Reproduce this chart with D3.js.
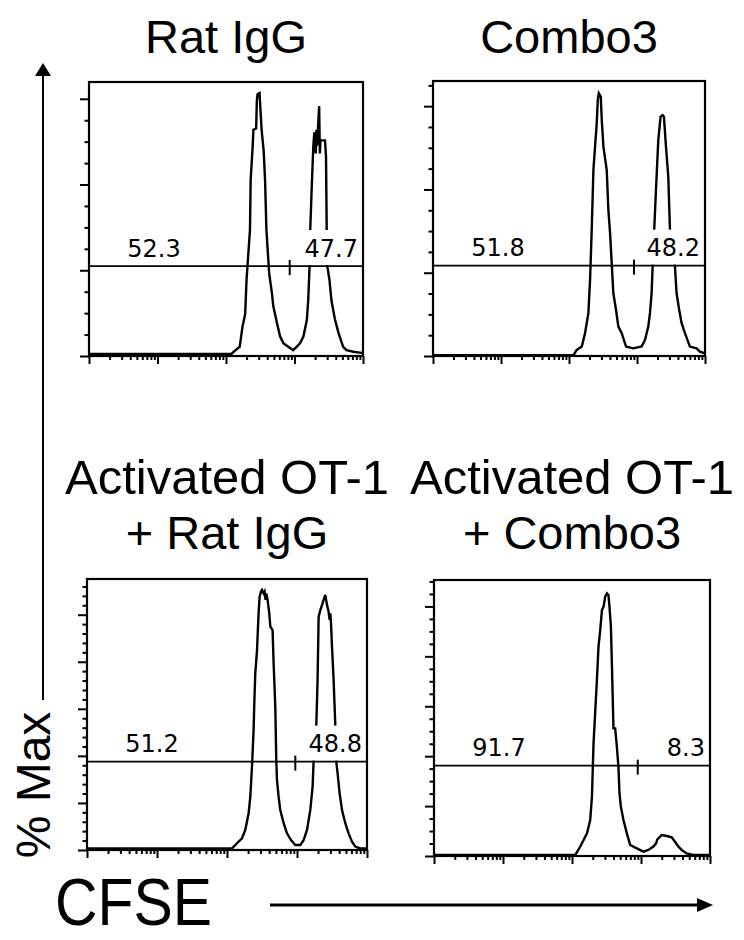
<!DOCTYPE html>
<html>
<head>
<meta charset="utf-8">
<script src="https://cdn.jsdelivr.net/npm/d3@7"></script>
<style>
  body { margin: 0; background: #fff; }
  svg { display: block; }
  text { font-family: "Liberation Sans", Arial, sans-serif; fill: #000; }
  .gate text { font-family: "DejaVu Sans", Verdana, sans-serif; }
</style>
</head>
<body>
<div id="chart"></div>
<script>
// histogram traces: [log10 CFSE, % of max]
var ratIgG = [
  [0, 0.8], [2.08, 0.8], [2.11, 1.6], [2.2, 3.5], [2.24, 11], [2.28, 16], [2.30, 29], [2.35, 48],
  [2.36, 67], [2.39, 80], [2.40, 86], [2.44, 86.5], [2.45, 97], [2.46, 99.5], [2.49, 100], [2.50, 95],
  [2.52, 86], [2.55, 78], [2.57, 67], [2.59, 48], [2.63, 31.5], [2.67, 24], [2.69, 19], [2.74, 13],
  [2.79, 7.4], [2.84, 4.8], [2.91, 3.5], [2.98, 2.2], [3.03, 3.5], [3.08, 4.8], [3.13, 7.4], [3.18, 13.7],
  [3.20, 21], [3.22, 34], [3.23, 48], [3.25, 63], [3.275, 80], [3.29, 85], [3.31, 77], [3.32, 86],
  [3.33, 80], [3.36, 95], [3.37, 77], [3.38, 82], [3.445, 82], [3.46, 76], [3.47, 48], [3.48, 34],
  [3.51, 29], [3.54, 21], [3.59, 14], [3.64, 9], [3.71, 3.5], [3.76, 2.2], [3.86, 1.6], [3.98, 1.2], [4, 1.2]
]
var combo3 = [
  [0, 0.3], [2.065, 0.3], [2.114, 2.3], [2.188, 3.6], [2.236, 8.7], [2.285, 16.4], [2.31, 29.1], [2.334, 48],
  [2.359, 70.8], [2.383, 79.7], [2.408, 88.6], [2.423, 97.4], [2.438, 100], [2.467, 98.7], [2.482, 89.8],
  [2.506, 79.7], [2.555, 70.8], [2.579, 55.6], [2.604, 46.7], [2.628, 35.4], [2.652, 23.9], [2.692, 17.5],
  [2.726, 11.2], [2.775, 8.7], [2.839, 3.6], [2.946, 2.9], [3.069, 3.6], [3.117, 6.1], [3.166, 11.2],
  [3.191, 16.4], [3.215, 23.9], [3.23, 34.2], [3.254, 48.6], [3.279, 63.2], [3.313, 82.2], [3.347, 91.1],
  [3.377, 91.7], [3.396, 91.1], [3.426, 79.7], [3.46, 68.3], [3.484, 48.6], [3.558, 34.2], [3.582, 23.9],
  [3.621, 17.5], [3.656, 12.5], [3.705, 8.7], [3.778, 3.6], [3.876, 2.9], [3.925, 1.65], [4, 1.0]
]
var ot1RatIgG = [
  [0, 0.6], [2.071, 0.6], [2.143, 2.6], [2.214, 4.5], [2.261, 7.7], [2.309, 14.1], [2.333, 20.5], [2.357, 32.1],
  [2.38, 46.2], [2.39, 56.4], [2.404, 67.9], [2.429, 76.9], [2.451, 91], [2.466, 97.4], [2.486, 99.4], [2.5, 100],
  [2.523, 98.7], [2.537, 99.4], [2.551, 96.2], [2.561, 98.7], [2.58, 96.2], [2.604, 91], [2.619, 85.9],
  [2.651, 84.6], [2.666, 71.8], [2.69, 55.1], [2.704, 34.6], [2.714, 26.9], [2.737, 20.5], [2.761, 15.4],
  [2.809, 10.3], [2.857, 6.4], [2.914, 3.8], [2.976, 1.9], [3.047, 1.9], [3.094, 3.8], [3.143, 7.7],
  [3.19, 15.4], [3.223, 24.4], [3.237, 34], [3.276, 48.1], [3.294, 65.4], [3.309, 89.7], [3.333, 92.3],
  [3.357, 94.2], [3.38, 96.2], [3.404, 98.1], [3.429, 94.2], [3.451, 91.7], [3.466, 88.5], [3.476, 91],
  [3.486, 87.2], [3.5, 78.2], [3.523, 65.4], [3.547, 48.1], [3.561, 34], [3.58, 29.5], [3.609, 21.8],
  [3.643, 15.4], [3.69, 10.3], [3.737, 6.4], [3.786, 3.2], [3.833, 1.3], [3.904, 0.6], [4, 0.6]
]
var ot1Combo3 = [
  [0, 0.4], [2.048, 0.4], [2.12, 3.6], [2.168, 6.1], [2.217, 8.6], [2.264, 13.7], [2.289, 22.6], [2.312, 42.8],
  [2.361, 67], [2.384, 79.7], [2.409, 86], [2.434, 93.6], [2.457, 94.9], [2.481, 98.7], [2.506, 100],
  [2.529, 99.3], [2.543, 94.9], [2.564, 87.3], [2.578, 73.3], [2.601, 48.6], [2.626, 48.6], [2.65, 41.6],
  [2.673, 34], [2.688, 23.9], [2.708, 18.8], [2.746, 13.7], [2.795, 8.6], [2.843, 4.2], [2.939, 2.9],
  [3.035, 1.65], [3.107, 2.3], [3.179, 3.6], [3.218, 4.8], [3.237, 6.3], [3.301, 8.0], [3.373, 7.6],
  [3.445, 7.1], [3.493, 5.4], [3.541, 3.6], [3.59, 2.3], [3.662, 1.0], [3.757, 0.4], [4, 0.4]
]

var series = [ratIgG, combo3, ot1RatIgG, ot1Combo3]
var titles = [['Rat IgG'], ['Combo3'], ['Activated OT-1', '+ Rat IgG'], ['Activated OT-1', '+ Combo3']]
var gateLeft = ['52.3', '51.8', '51.2', '91.7']
var gateRight = ['47.7', '48.2', '48.8', '8.3']
var gateLevel = [34.2, 34.4, 34.0, 34.4]     // % max height of the gate bar
var gateSplit = [2.93, 2.956, 2.976, 2.953]  // log10 CFSE where the gate divides
var yStep = [32.6, 31.7, 18.1, 19.0]         // y major tick spacing, % max
var yDiv = [4, 4, 5, 4]                      // minor divisions per major

// layout (pixels)
var boxes = [
  {x0: 89, x1: 363, y0: 82, y1: 356, h: 263},
  {x0: 433, x1: 705, y0: 81, y1: 356, h: 262.7},
  {x0: 87, x1: 367, y0: 579, y1: 850, h: 260},
  {x0: 434, x1: 710, y0: 580, y1: 856, h: 262.7}
]
var titleY = [[53], [53], [494, 549], [494, 549]]
var titleSize = [[47], [47], [49, 47], [49, 47]]

var svg = d3.select('#chart').append('svg').attr('width', 744).attr('height', 940)

series.forEach(function(data, i){
  var b = boxes[i]
  var x = d3.scaleLog().domain([1, 1e4]).range([b.x0, b.x1])
  var y = d3.scaleLinear().domain([0, 100]).range([b.y1, b.y1 - b.h])
  var g = svg.append('g')

  titles[i].forEach(function(t, j){
    g.append('text')
      .attr('x', (b.x0 + b.x1) / 2).attr('y', titleY[i][j])
      .attr('text-anchor', 'middle').attr('font-size', titleSize[i][j])
      .text(t)
  })

  // x ticks, log decades
  var majors = d3.range(0, 5).map(function(e){ return Math.pow(10, e) })
  var minors = []
  d3.range(0, 4).forEach(function(e){
    d3.range(2, 10).forEach(function(k){ minors.push(k * Math.pow(10, e)) })
  })
  function clean(s){
    s.select('.domain').remove()
    s.selectAll('.tick line').attr('stroke-width', 2)
  }
  g.append('g').attr('transform', 'translate(0,' + b.y1 + ')')
    .call(d3.axisBottom(x).tickValues(majors).tickSize(8).tickFormat('')).call(clean)
  g.append('g').attr('transform', 'translate(0,' + b.y1 + ')')
    .call(d3.axisBottom(x).tickValues(minors).tickSize(4).tickFormat('')).call(clean)

  // y ticks
  var top = y.invert(b.y0)
  var yMaj = d3.range(0, top, yStep[i])
  var yMin = d3.range(0, top, yStep[i] / yDiv[i]).filter(function(v, k){ return k % yDiv[i] != 0 })
  g.append('g').attr('transform', 'translate(' + b.x0 + ',0)')
    .call(d3.axisLeft(y).tickValues(yMaj).tickSize(9).tickFormat('')).call(clean)
  g.append('g').attr('transform', 'translate(' + b.x0 + ',0)')
    .call(d3.axisLeft(y).tickValues(yMin).tickSize(4.5).tickFormat('')).call(clean)

  var line = d3.line()
    .x(function(d){ return x(Math.pow(10, d[0])) })
    .y(function(d){ return y(d[1]) })
  g.append('path').datum(data)
    .attr('d', line)
    .attr('fill', 'none').attr('stroke', '#000').attr('stroke-width', 2.4)

  // gate
  var gy = y(gateLevel[i])
  var gate = g.append('g').attr('class', 'gate')
  var rt = gate.append('text')
    .attr('x', b.x1 - 5).attr('y', gy - 9.5)
    .attr('text-anchor', 'end').attr('font-size', 24)
    .text(gateRight[i])
  var bb = rt.node().getBBox()
  gate.insert('rect', 'text')
    .attr('x', bb.x - 3).attr('width', bb.width + 4)
    .attr('y', gy - 36).attr('height', 35)
    .attr('fill', '#fff')
  gate.append('text')
    .attr('x', b.x0 + 65).attr('y', gy - 9.5)
    .attr('text-anchor', 'middle').attr('font-size', 24)
    .text(gateLeft[i])
  gate.append('line')
    .attr('x1', b.x0).attr('x2', b.x1).attr('y1', gy).attr('y2', gy)
    .attr('stroke', '#000').attr('stroke-width', 1.8)
  var sx = x(Math.pow(10, gateSplit[i]))
  gate.append('line')
    .attr('x1', sx).attr('x2', sx).attr('y1', gy - 6).attr('y2', gy + 9)
    .attr('stroke', '#000').attr('stroke-width', 2)

  g.append('rect')
    .attr('x', b.x0).attr('y', b.y0)
    .attr('width', b.x1 - b.x0).attr('height', b.y1 - b.y0)
    .attr('fill', 'none').attr('stroke', '#000').attr('stroke-width', 2.2)
})

// shared axis captions
svg.append('text')
  .attr('transform', 'translate(50,785) rotate(-90)')
  .attr('text-anchor', 'middle').attr('font-size', 48)
  .text('% Max')
svg.append('line').attr('x1', 43).attr('x2', 43).attr('y1', 700).attr('y2', 72)
  .attr('stroke', '#000').attr('stroke-width', 2)
svg.append('path').attr('d', 'M43,63L35,76L51,76Z').attr('fill', '#000')

svg.append('text')
  .attr('x', 55).attr('y', 925)
  .attr('font-size', 66)
  .attr('textLength', 157).attr('lengthAdjust', 'spacingAndGlyphs')
  .text('CFSE')
svg.append('line').attr('x1', 270).attr('x2', 700).attr('y1', 905).attr('y2', 905)
  .attr('stroke', '#000').attr('stroke-width', 3)
svg.append('path').attr('d', 'M713,905L697,898L697,912Z').attr('fill', '#000')
</script>
</body>
</html>
